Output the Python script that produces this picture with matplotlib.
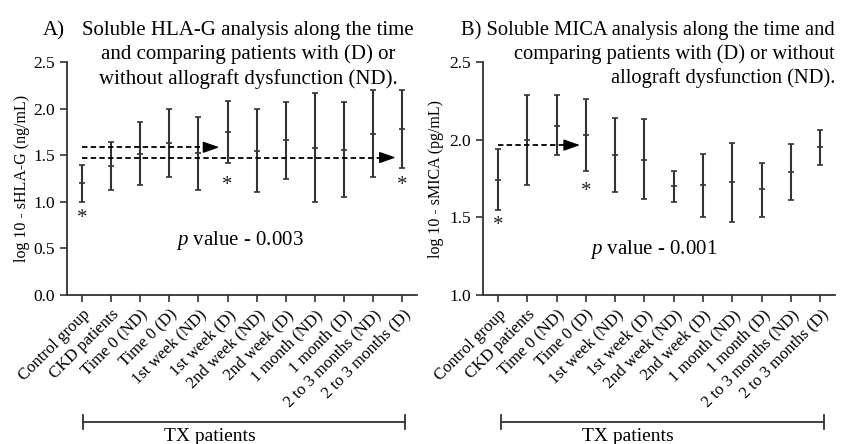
import numpy as np
import matplotlib.pyplot as plt

plt.rcParams['font.family'] = ['Liberation Serif', 'DejaVu Serif']
plt.rcParams['mathtext.fontset'] = 'custom'
plt.rcParams['mathtext.it'] = 'Liberation Serif:italic'
plt.rcParams['mathtext.rm'] = 'Liberation Serif'

categorias = ['Control group', 'CKD patients', 'Time 0 (ND)', 'Time 0 (D)',
              '1st week (ND)', '1st week (D)', '2nd week (ND)', '2nd week (D)',
              '1 month (ND)', '1 month (D)', '2 to 3 months (ND)', '2 to 3 months (D)']

# A) sHLA-G (log10 ng/mL): media, limite inferior, limite superior
hlag_media = [1.20, 1.38, 1.51, 1.63, 1.52, 1.75, 1.55, 1.66, 1.58, 1.56, 1.73, 1.78]
hlag_inf = [1.00, 1.13, 1.18, 1.27, 1.13, 1.42, 1.10, 1.24, 1.00, 1.05, 1.27, 1.36]
hlag_sup = [1.40, 1.64, 1.86, 2.00, 1.91, 2.08, 2.00, 2.07, 2.17, 2.07, 2.20, 2.20]

# B) sMICA (log10 pg/mL)
mica_media = [1.74, 2.00, 2.09, 2.03, 1.90, 1.87, 1.70, 1.71, 1.73, 1.68, 1.79, 1.95]
mica_inf = [1.55, 1.71, 1.90, 1.80, 1.66, 1.62, 1.60, 1.50, 1.47, 1.50, 1.61, 1.84]
mica_sup = [1.94, 2.29, 2.29, 2.26, 2.14, 2.13, 1.80, 1.91, 1.98, 1.85, 1.97, 2.06]

# asteriscos (indice, y)
hlag_asteriscos = [(0, 0.90), (5, 1.25), (11, 1.25)]
mica_asteriscos = [(0, 1.49), (3, 1.71)]

# flechas discontinuas (y, x final)
hlag_flechas = [(1.585, 4.72), (1.475, 10.77)]
mica_flechas = [(1.965, 2.80)]

titulo_b = ['B) Soluble MICA analysis along the time and',
            'comparing patients with (D) or without',
            'allograft dysfunction (ND).']

fig = plt.figure(figsize=(8.49, 4.44), dpi=100)
ax1 = fig.add_axes([67/849, 1-295/444, 350/849, 233/444])
ax2 = fig.add_axes([483/849, 1-295/444, 352/849, 233/444])

gris = '#333333'


def panel(ax, media, inf, sup, asteriscos, flechas, ylim, yticks, ylabel, ylx, ptexto, pxy):
    x = np.arange(len(categorias))
    media = np.array(media)
    yerr = [media - np.array(inf), np.array(sup) - media]
    ax.errorbar(x, media, yerr=yerr, fmt='none', ecolor=gris, elinewidth=1.5,
                capsize=2.3, capthick=1.2)
    ax.plot(x, media, linestyle='none', marker='_', ms=4, mew=1.2, color=gris)
    for i, yy in asteriscos:
        ax.annotate('*', (i, yy), xytext=(0, -5), textcoords='offset points',
                    ha='center', va='center', fontsize=15, color='#222222')
    cabeza = 0.5
    for yy, xf in flechas:
        ax.plot([0, xf - cabeza], [yy, yy], color='black', lw=1.3, linestyle=(0, (3, 1.8)))
        ax.annotate('', xy=(xf, yy), xytext=(xf - cabeza - 0.05, yy),
                    arrowprops=dict(arrowstyle='-|>,head_length=1.0,head_width=0.35',
                                    color='black', lw=1.0, shrinkA=0, shrinkB=0))
    ax.set_xlim(-0.51, 11.5)
    ax.set_ylim(*ylim)
    ax.set_yticks(yticks)
    ax.set_yticklabels(['%.1f' % v for v in yticks], fontsize=12.5)
    ax.set_xticks(x)
    ax.set_xticklabels(categorias, rotation=45, ha='right', rotation_mode='anchor',
                       fontsize=12)
    ax.set_ylabel(ylabel, fontsize=11.5)
    ax.yaxis.set_label_coords(ylx, 0.5)
    for s in ['top', 'right']:
        ax.spines[s].set_visible(False)
    for s in ['left', 'bottom']:
        ax.spines[s].set_linewidth(1.3)
        ax.spines[s].set_color(gris)
    ax.tick_params(length=5, width=1.2, color=gris)
    ax.text(pxy[0], pxy[1], ptexto, ha='center', va='center', fontsize=15)


panel(ax1, hlag_media, hlag_inf, hlag_sup, hlag_asteriscos, hlag_flechas,
      (0, 2.5), [0.0, 0.5, 1.0, 1.5, 2.0, 2.5], 'log 10 - sHLA-G (ng/mL)', -0.105,
      r'$p$ value - 0.003', (5.41, 0.58))
panel(ax2, mica_media, mica_inf, mica_sup, mica_asteriscos, mica_flechas,
      (1.0, 2.5), [1.0, 1.5, 2.0, 2.5], 'log 10 - sMICA (pg/mL)', -0.11,
      r'$p$ value - 0.001', (5.3, 1.29))

# titulos
fig.text(43/849, 1-31/444, 'A)', ha='left', va='center', fontsize=15)
fig.text(248/849, 1-55/444, 'Soluble HLA-G analysis along the time\nand comparing patients with (D) or\nwithout allograft dysfunction (ND).',
         ha='center', va='center', fontsize=15, linespacing=1.3)
for k, linea in enumerate(titulo_b):
    fig.text(835/849, 1-(30 + 24*k)/444, linea, ha='right', va='center', fontsize=14.8)

# corchete TX patients
for x0, x1, xt in [(83, 405, 210), (501, 824, 628)]:
    fig.add_artist(plt.Line2D([x0/849, x1/849], [1-422/444]*2, color=gris, lw=1.3))
    for xx in (x0, x1):
        fig.add_artist(plt.Line2D([xx/849]*2, [1-415/444, 1-429/444], color=gris, lw=1.3))
    fig.text(xt/849, 1-441/444, 'TX patients', ha='center', va='baseline', fontsize=14)

fig.savefig('out.png', dpi=100)
